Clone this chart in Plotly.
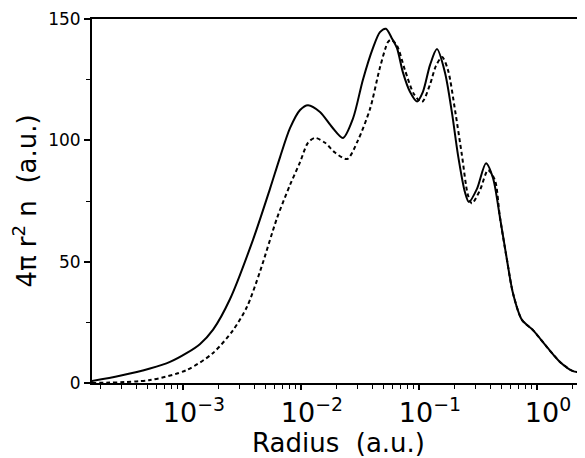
import plotly.graph_objects as go

# Solid curve
r_solid = [1.69e-4, 2.92e-4, 5.25e-4, 7.76e-4, 1.08e-3, 1.39e-3, 1.80e-3, 2.50e-3, 3.92e-3,
           5.46e-3, 6.64e-3, 8.07e-3, 9.82e-3, 1.146e-2, 1.449e-2, 1.83e-2, 2.27e-2, 2.76e-2,
           3.35e-2, 4.07e-2, 4.67e-2, 5.25e-2, 5.90e-2, 6.51e-2, 7.31e-2, 8.39e-2, 9.62e-2,
           0.108, 0.124, 0.142, 0.166, 0.190, 0.214, 0.245, 0.265, 0.310, 0.370, 0.424,
           0.485, 0.557, 0.626, 0.746, 0.925, 1.216, 1.567, 2.02, 2.55, 3.14]
n_solid = [0.8, 3.0, 6.0, 8.7, 12.4, 16.0, 22.0, 34.5, 59.0,
           80, 93, 105, 112.5, 114.5, 111.7, 105.5, 101, 109,
           125, 138, 144.6, 146, 142, 138, 128, 120, 116,
           120, 131, 137.6, 128, 111.6, 94, 78.7, 74.6, 80, 90.6, 84.5,
           68.4, 50.7, 37, 26, 21.8, 14.8, 8.7, 4.9, 4.1, 3.5]

# Dashed curve
r_dash = [1.69e-4, 5.25e-4, 1.08e-3, 1.80e-3, 2.66e-3, 3.48e-3, 4.50e-3, 6.27e-3, 8.07e-3,
          9.82e-3, 1.146e-2, 1.315e-2, 1.60e-2, 1.94e-2, 2.46e-2, 3.04e-2, 3.85e-2, 4.67e-2,
          5.46e-2, 5.80e-2, 6.51e-2, 7.60e-2, 9.08e-2, 0.106, 0.124, 0.139, 0.157, 0.176,
          0.202, 0.231, 0.260, 0.281, 0.329, 0.385, 0.440, 0.485, 0.557, 0.626, 0.746,
          0.925, 1.216, 1.567, 2.02, 2.55, 3.14]
n_dash = [0, 1.2, 5.4, 12.4, 21.8, 31.3, 46, 68, 81.6,
          91, 99, 101, 99, 95, 92.3, 100, 113, 130,
          140.5, 141.5, 139, 129, 119, 115.8, 123, 130.6, 134.3, 129,
          112.5, 94, 77.5, 74, 79.5, 87.7, 83.6, 68.4, 50.7, 37, 26,
          21.8, 14.8, 8.7, 4.9, 4.1, 3.5]

x_tickvals = [1e-3, 1e-2, 1e-1, 1]
x_ticktext = ["10<sup>−3</sup>", "10<sup>−2</sup>", "10<sup>−1</sup>", "10<sup>0</sup>"]
x_minor = [m * 10 ** e for e in range(-4, 1) for m in range(2, 10)]
y_tickvals = [0, 50, 100, 150]

FONT = "DejaVu Sans"

fig = go.Figure()
fig.add_trace(go.Scatter(x=r_solid, y=n_solid, mode="lines",
                         line=dict(color="black", width=2, shape="spline", smoothing=0.8),
                         showlegend=False))
fig.add_trace(go.Scatter(x=r_dash, y=n_dash, mode="lines",
                         line=dict(color="black", width=2, dash="4px,3px", shape="spline", smoothing=0.8),
                         showlegend=False))

# page body has an 8px margin, so the figure is sized to fill the rest of the window
fig.update_layout(
    width=577, height=450,
    margin=dict(l=84, r=0, t=11, b=75),
    paper_bgcolor="white", plot_bgcolor="white",
    font=dict(family=FONT, color="black"),
)
fig.update_xaxes(
    type="log", range=[-3.771, 0.407],
    showgrid=False, zeroline=False,
    showline=True, linecolor="black", linewidth=2, mirror=True,
    tickmode="array", tickvals=x_tickvals, ticktext=x_ticktext,
    ticks="outside", ticklen=5, tickwidth=1.5, tickcolor="black",
    ticklabelshift=11,
    minor=dict(tickmode="array", tickvals=x_minor, ticks="outside", ticklen=4,
               tickwidth=1, tickcolor="black", showgrid=False),
    tickfont=dict(family=FONT, size=27, color="black"),
    title=dict(text="Radius\u00a0\u00a0(a.u.)", font=dict(family=FONT, size=26, color="black"), standoff=3),
    automargin=False,
)
fig.update_yaxes(
    range=[0, 150],
    showgrid=False, zeroline=False,
    showline=True, linecolor="black", linewidth=2, mirror=False,
    tickmode="array", tickvals=y_tickvals,
    ticks="outside", ticklen=6, tickwidth=1.5, tickcolor="black",
    minor=dict(tickmode="array", tickvals=[25, 75, 125], ticks="outside", ticklen=4,
               tickwidth=1, tickcolor="black", showgrid=False),
    tickfont=dict(family=FONT, size=17, color="black"),
    title=dict(text="4π\u00a0r<sup>2</sup>\u00a0n\u00a0\u00a0(a.u.)", font=dict(family=FONT, size=26, color="black"), standoff=8),
    automargin=False,
)

fig.write_html("out.html")
